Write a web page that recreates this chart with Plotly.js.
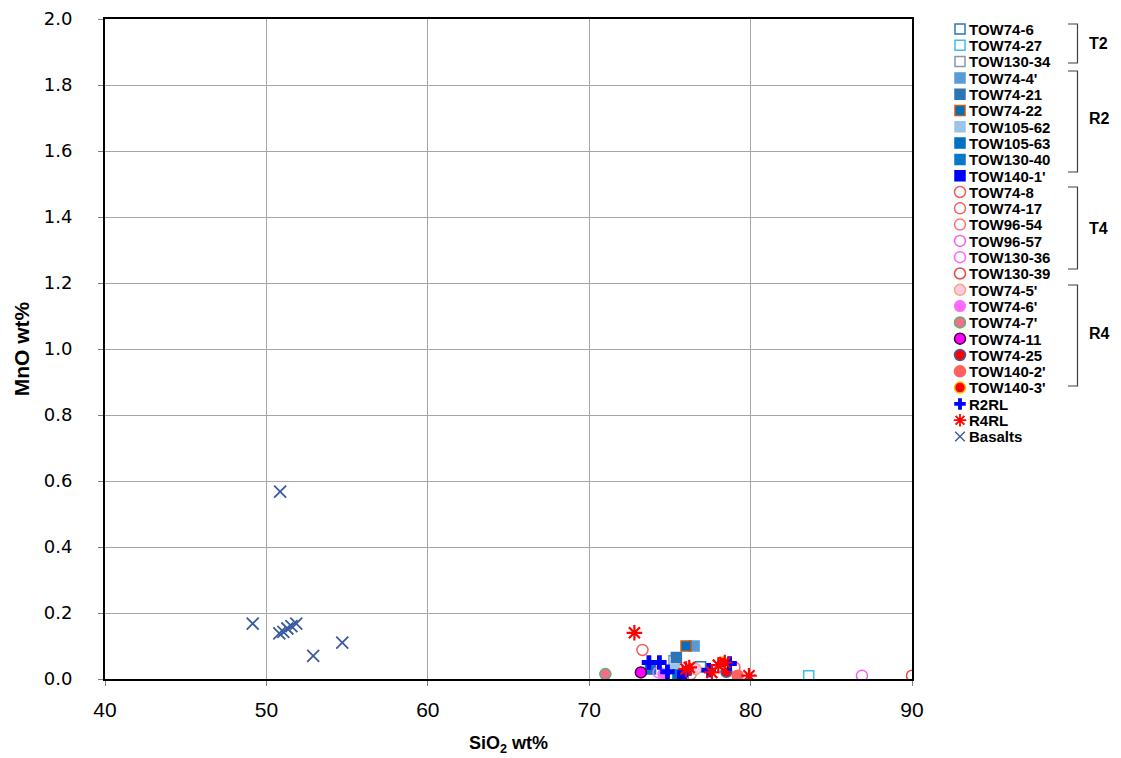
<!DOCTYPE html>
<html><head><meta charset="utf-8">
<script src="https://cdn.plot.ly/plotly-3.0.1.min.js"></script>
<style>body{margin:0;background:#fff}#c{width:1121px;height:758px}</style>
</head><body><div id="c"></div>
<script>
// ---- data (SiO2 wt%, MnO wt%) ----
const sampleNames = ["TOW74-6","TOW74-27","TOW130-34","TOW74-4'","TOW74-21","TOW74-22","TOW105-62","TOW105-63","TOW130-40","TOW140-1'",
  "TOW74-8","TOW74-17","TOW96-54","TOW96-57","TOW130-36","TOW130-39",
  "TOW74-5'","TOW74-6'","TOW74-7'","TOW74-11","TOW74-25","TOW140-2'","TOW140-3'"];
const sampleSiO2 = [76.9, 83.6, 75.25, 76.5, 75.4, 76.0, 75.3, 75.5, 73.8, 75.8,
  73.3, 79.0, 76.3, 86.9, 74.3, 90.0,
  76.6, 74.6, 71.0, 73.2, 78.5, 79.2, 78.3];
const sampleMnO = [0.037, 0.01, 0.055, 0.10, 0.065, 0.10, 0.03, 0.012, 0.03, 0.01,
  0.088, 0.035, 0.015, 0.01, 0.02, 0.01,
  0.03, 0.015, 0.015, 0.02, 0.022, 0.01, 0.05];
const groupNames = ["T2","R2","T4","R4"];

const r2rlSiO2 = [73.7, 74.35, 74.85, 75.9, 77.4, 78.7];
const r2rlMnO  = [0.05, 0.05, 0.022, 0.017, 0.027, 0.047];
const r4rlSiO2 = [72.8, 76.0, 76.2, 77.6, 78.0, 78.4, 79.9];
const r4rlMnO  = [0.14, 0.03, 0.035, 0.02, 0.042, 0.05, 0.01];
const basaltSiO2 = [50.85, 49.15, 50.8, 51.05, 51.3, 51.55, 51.85, 52.9, 54.7];
const basaltMnO  = [0.568, 0.168, 0.138, 0.143, 0.153, 0.16, 0.168, 0.07, 0.11];

// ---- styles ----
const styles = [
  {s:'square-open', c:'#2E75B6', lc:'#2E75B6'},
  {s:'square-open', c:'#3CBDEB', lc:'#3CBDEB'},
  {s:'square-open', c:'#8497B0', lc:'#8497B0'},
  {s:'square', c:'#5B9BD5', lc:'#5B9BD5'},
  {s:'square', c:'#2E75B6', lc:'#2E75B6'},
  {s:'square', c:'#0070C0', lc:'#C55A11'},
  {s:'square', c:'#9DC3E6', lc:'#9DC3E6'},
  {s:'square', c:'#0070C0', lc:'#0070C0'},
  {s:'square', c:'#0A78C8', lc:'#0A78C8'},
  {s:'square', c:'#0000FF', lc:'#0000FF'},
  {s:'circle-open', c:'#F25C5C', lc:'#F25C5C'},
  {s:'circle-open', c:'#F56060', lc:'#F56060'},
  {s:'circle-open', c:'#FF7070', lc:'#FF7070'},
  {s:'circle-open', c:'#F060F0', lc:'#F060F0'},
  {s:'circle-open', c:'#FF66FF', lc:'#FF66FF'},
  {s:'circle-open', c:'#E04848', lc:'#E04848'},
  {s:'circle', c:'#FFC8E0', lc:'#F4A582'},
  {s:'circle', c:'#FF66FF', lc:'#F080F0'},
  {s:'circle', c:'#F0708A', lc:'#5FAE72'},
  {s:'circle', c:'#FF00FF', lc:'#4B0040'},
  {s:'circle', c:'#FF0000', lc:'#4060A0'},
  {s:'circle', c:'#FF6060', lc:'#FF6060'},
  {s:'circle', c:'#FF0000', lc:'#FFC000'}
];

const traces = [];
sampleNames.forEach((n, i) => {
  const st = styles[i];
  traces.push({
    type:'scatter', mode:'markers', name:n,
    x:[sampleSiO2[i]], y:[sampleMnO[i]],
    marker:{symbol:st.s, size: st.s.indexOf('square')>=0 ? 10 : 11, color:st.c,
      line:{color:st.lc, width:1.5}}
  });
});
traces.push({type:'scatter', mode:'markers', name:'R2RL', x:r2rlSiO2, y:r2rlMnO,
  marker:{symbol:'cross', size:12, color:'#0000FF', line:{width:0}}});
traces.push({type:'scatter', mode:'markers', name:'R4RL', x:r4rlSiO2, y:r4rlMnO,
  marker:{symbol:'asterisk-open', size:13, color:'#FF0000', line:{color:'#FF0000', width:2.2}}});
traces.push({type:'scatter', mode:'markers', name:'Basalts', x:basaltSiO2, y:basaltMnO,
  marker:{symbol:'x-thin-open', size:12, color:'#3A5BA0', line:{color:'#3A5BA0', width:1.8}}});

// ---- layout ----
const W = 1121, H = 758, L = 105, R = 209, T = 19, B = 79;
const pw = W - L - R, ph = H - T - B;
const px2x = p => (p - L) / pw;
const py2y = p => 1 - (p - T) / ph;

// bracket extents in pixels (top, bottom, label centre)
const brackets = [[24, 63, 44], [71, 172, 119], [187, 269, 229], [285, 386, 333]];
const shapes = [], annotations = [];
groupNames.forEach((g, k) => {
  const [top, bot, mid] = brackets[k];
  const xl = px2x(1068), xr = px2x(1077.5);
  shapes.push({type:'path', xref:'paper', yref:'paper',
    path:`M ${xl} ${py2y(top)} L ${xr} ${py2y(top)} L ${xr} ${py2y(bot)} L ${xl} ${py2y(bot)}`,
    line:{color:'#404040', width:1.2}});
  annotations.push({xref:'paper', yref:'paper', x:px2x(1087), y:py2y(mid),
    xanchor:'left', yanchor:'middle', showarrow:false, text:g,
    font:{family:'Liberation Sans, Arial', size:16, weight:'bold', color:'#000'}});
});

const layout = {
  width:W, height:H, margin:{l:L, r:R, t:T, b:B},
  paper_bgcolor:'#fff', plot_bgcolor:'#fff',
  showlegend:true,
  legend:{x:px2x(938), y:py2y(18), xanchor:'left', yanchor:'top',
    font:{family:'Liberation Sans, Arial', size:15, weight:'bold', color:'#000'},
    tracegroupgap:0, itemwidth:30, bgcolor:'rgba(0,0,0,0)'},
  xaxis:{range:[40,90], dtick:10, tick0:40, showgrid:true, gridcolor:'#A6A6A6', gridwidth:1,
    zeroline:false, showline:true, linecolor:'#000', linewidth:2, mirror:true,
    ticks:'outside', ticklen:5, tickcolor:'#808080', ticklabelstandoff:6,
    tickfont:{family:'Liberation Sans Narrow, Liberation Sans, Arial', size:21, color:'#000'},
    title:{text:'SiO<sub>2</sub> wt%', standoff:16,
      font:{family:'Liberation Sans, Arial', size:18, weight:'bold', color:'#000'}}},
  yaxis:{range:[0,2.0], dtick:0.2, tick0:0, tickformat:'.1f', showgrid:true, gridcolor:'#A6A6A6', gridwidth:1,
    zeroline:false, showline:true, linecolor:'#000', linewidth:2, mirror:true,
    ticks:'outside', ticklen:5, tickcolor:'#808080', ticklabelstandoff:22,
    tickfont:{family:'DejaVu Sans, Verdana', size:18, color:'#000'},
    title:{text:'MnO wt%', standoff:8,
      font:{family:'Liberation Sans, Arial', size:21, weight:'bold', color:'#000'}}},
  shapes:shapes, annotations:annotations
};

const LEG_SPACING = 16.3, LEG_X = 960, LEG_Y = 29, TEXT_X = 29;
Plotly.newPlot('c', traces, layout, {displayModeBar:false, staticPlot:true}).then(gd => {
  // tighten legend rows to match the original compact legend
  const legend = gd.querySelector('.legend');
  if (!legend) return;
  legend.querySelectorAll('[clip-path]').forEach(el => el.removeAttribute('clip-path'));
  legend.querySelectorAll('.scrollbar').forEach(el => el.style.display = 'none');
  const items = Array.from(legend.querySelectorAll('.traces'));
  if (!items.length) return;
  const parse = el => {
    const m = /translate\(\s*([-\d.e]+)[ ,]+([-\d.e]+)\s*\)/.exec(el.getAttribute('transform') || '');
    return m ? [+m[1], +m[2]] : [0, 0];
  };
  const [x0, y0] = parse(items[0]);
  items.forEach((el, i) => {
    el.setAttribute('transform', `translate(${x0},${y0 + i * LEG_SPACING})`);
    const t = el.querySelector('.legendtext');
    if (t) t.setAttribute('x', TEXT_X);
  });
  // slightly smaller legend symbols for the reference-line and basalt entries
  items.slice(sampleNames.length).forEach(el => {
    el.querySelectorAll('.legendpoints path').forEach(p => {
      const tr = p.getAttribute('transform') || '';
      p.setAttribute('transform', tr + ' scale(0.8)');
    });
  });
  const pt = items[0].querySelector('.legendpoints').getBoundingClientRect();
  const gr = gd.getBoundingClientRect();
  const dx = LEG_X - ((pt.left + pt.right) / 2 - gr.left);
  const dy = LEG_Y - ((pt.top + pt.bottom) / 2 - gr.top);
  items.forEach((el, i) => {
    el.setAttribute('transform', `translate(${x0 + dx},${y0 + i * LEG_SPACING + dy})`);
  });
});
</script></body></html>
